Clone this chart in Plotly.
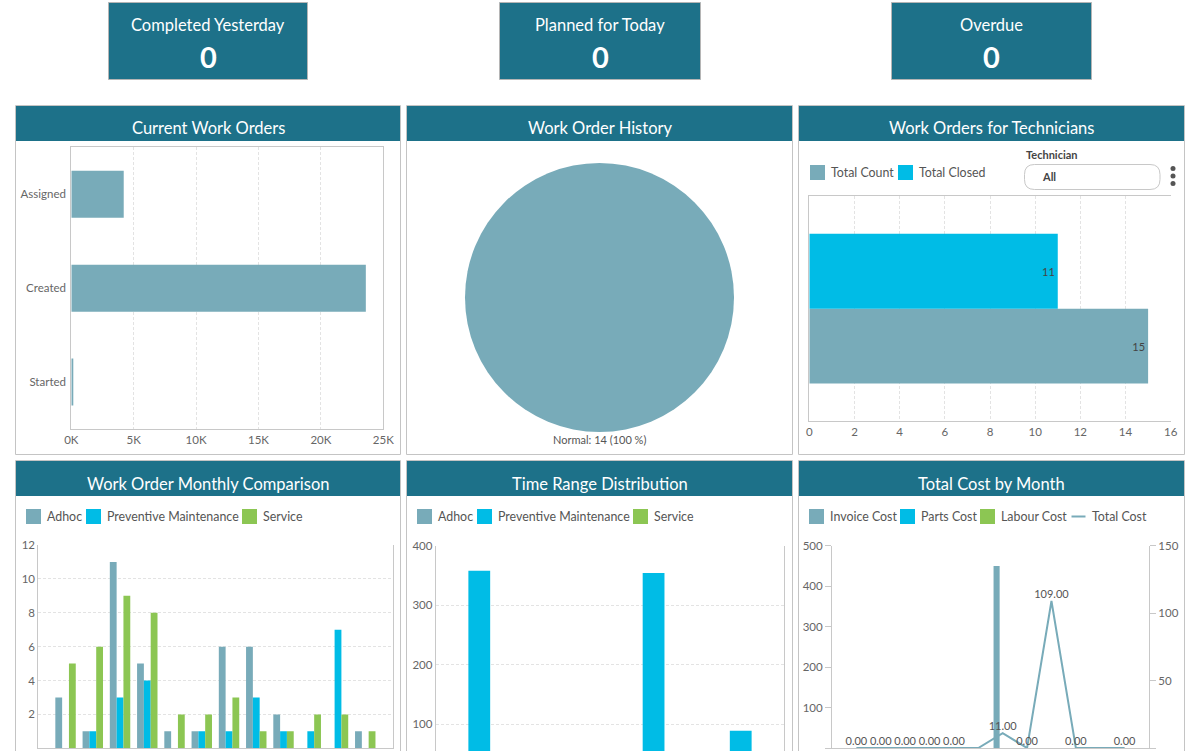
import plotly.graph_objects as go

W, H = 1200, 751


def px(x):
    return x / W


def py(y):
    return 1 - y / H


# ---------------- DATA ----------------
kpi_titles = ["Completed Yesterday", "Planned for Today", "Overdue"]
kpi_values = [0, 0, 0]

wo_status = ["Assigned", "Created", "Started"]
wo_counts = [4200, 23600, 120]
wo_tickvals = [0, 5000, 10000, 15000, 20000, 25000]
wo_ticktext = ["0K", "5K", "10K", "15K", "20K", "25K"]

history_labels = ["Normal"]
history_values = [14]

tech_category = ["All"]
tech_total_count = [15]
tech_total_closed = [11]

months = ["Jan", "Feb", "Mar", "Apr", "May", "Jun",
          "Jul", "Aug", "Sep", "Oct", "Nov", "Dec"]
monthly_adhoc = [3, 1, 11, 5, 1, 1, 6, 6, 2, 0, 0, 1]
monthly_pm = [0, 1, 3, 4, 0, 1, 1, 3, 1, 1, 7, 0]
monthly_service = [5, 6, 9, 8, 2, 2, 3, 1, 1, 2, 2, 1]

time_ranges = ["< 1 Day", "1-3 Days", "3-7 Days", "> 7 Days"]
time_adhoc = [0, 0, 0, 0]
time_pm = [358, 0, 354, 89]
time_service = [0, 0, 0, 0]

invoice_cost = [0, 0, 0, 0, 0, 0, 450, 0, 0, 0, 0, 0]
parts_cost = [0, 0, 0, 0, 0, 0, 0, 0, 0, 0, 0, 0]
labour_cost = [0, 0, 0, 0, 0, 0, 0, 0, 0, 0, 0, 0]
total_cost = [0, 0, 0, 0, 0, 0, 11, 0, 109, 0, 0, 0]
total_cost_label_shown = [1, 1, 1, 1, 1, 0, 1, 1, 1, 1, 0, 1]

# ---------------- STYLE ----------------
TEAL = "#1d7189"
GB = "#78abb9"
CYAN = "#00bce6"
GREEN = "#8cc653"
BORDER = "#c4c4c4"
AXIS = "#c8c8c8"
GRID = "#e3e3e3"
DASH = "3px,2px"
TXT = "#555555"
TICK = "#666666"
FONT = "Lato"
LEG = 12.4

fig = go.Figure()

# Current work orders
fig.add_trace(go.Bar(x=wo_counts, y=wo_status, orientation="h", width=0.5,
                     marker=dict(color=GB, line=dict(width=0)),
                     xaxis="x", yaxis="y", showlegend=False, hoverinfo="x+y"))

# Work order history pie
fig.add_trace(go.Pie(labels=history_labels, values=history_values, sort=False,
                     textinfo="none", marker=dict(colors=[GB], line=dict(width=0)),
                     domain=dict(x=[px(465), px(734)], y=[py(432), py(163)]),
                     showlegend=False))

# Technicians
fig.add_trace(go.Bar(x=tech_total_count, y=tech_category, orientation="h",
                     width=1 / 3, offset=-1 / 3, name="Total Count",
                     marker=dict(color=GB, line=dict(width=0)),
                     text=[str(v) for v in tech_total_count], textposition="inside",
                     insidetextanchor="end", textfont=dict(color="#444", size=11),
                     xaxis="x2", yaxis="y2", showlegend=False))
fig.add_trace(go.Bar(x=tech_total_closed, y=tech_category, orientation="h",
                     width=1 / 3, offset=0, name="Total Closed",
                     marker=dict(color=CYAN, line=dict(width=0)),
                     text=[str(v) for v in tech_total_closed], textposition="inside",
                     insidetextanchor="end", textfont=dict(color="#444", size=11),
                     xaxis="x2", yaxis="y2", showlegend=False))

# Monthly comparison
for vals, col, off, nm in [(monthly_adhoc, GB, -0.375, "Adhoc"),
                           (monthly_pm, CYAN, -0.125, "Preventive Maintenance"),
                           (monthly_service, GREEN, 0.125, "Service")]:
    fig.add_trace(go.Bar(x=months, y=vals, width=0.25, offset=off, name=nm,
                         marker=dict(color=col, line=dict(width=0)),
                         xaxis="x3", yaxis="y3", showlegend=False))

# Time range distribution
for vals, col, off, nm in [(time_adhoc, GB, -0.375, "Adhoc"),
                           (time_pm, CYAN, -0.125, "Preventive Maintenance"),
                           (time_service, GREEN, 0.125, "Service")]:
    fig.add_trace(go.Bar(x=time_ranges, y=vals, width=0.25, offset=off, name=nm,
                         marker=dict(color=col, line=dict(width=0)),
                         xaxis="x4", yaxis="y4", showlegend=False))

# Total cost by month
for vals, col, off, nm in [(invoice_cost, GB, -0.375, "Invoice Cost"),
                           (parts_cost, CYAN, -0.125, "Parts Cost"),
                           (labour_cost, GREEN, 0.125, "Labour Cost")]:
    fig.add_trace(go.Bar(x=months, y=vals, width=0.25, offset=off, name=nm,
                         marker=dict(color=col, line=dict(width=0)),
                         xaxis="x5", yaxis="y5", showlegend=False))

cost_text = [f"{v:.2f}" if s else "" for v, s in zip(total_cost, total_cost_label_shown)]
fig.add_trace(go.Scatter(x=months, y=total_cost, mode="lines+text", name="Total Cost",
                         line=dict(color=GB, width=2), text=cost_text,
                         textposition="top center",
                         textfont=dict(size=11, color=TXT, family=FONT),
                         xaxis="x5", yaxis="y6", showlegend=False, cliponaxis=False))

# ---------------- AXES ----------------
tickfont = dict(size=11.5, color=TICK, family=FONT)
common = dict(automargin=False, zeroline=False, tickfont=tickfont, fixedrange=True)

layout_axes = dict(
    xaxis=dict(domain=[px(71.3), px(383.3)], anchor="y", range=[0, 25000],
               tickvals=wo_tickvals, ticktext=wo_ticktext, showgrid=True,
               gridcolor=GRID, griddash=DASH, showline=True, linecolor=AXIS,
               mirror=True, ticks="", **common),
    yaxis=dict(domain=[py(429), py(147.3)], anchor="x", type="category",
               categoryorder="array", categoryarray=wo_status,
               range=[2.5, -0.5], showgrid=False, showline=True, linecolor=AXIS,
               mirror=True, ticks="", ticklabelstandoff=2, **common),
    xaxis2=dict(domain=[px(809.3), px(1170.7)], anchor="y2", range=[0, 16],
                dtick=2, showgrid=True, gridcolor=GRID, griddash=DASH,
                showline=True, linecolor=AXIS, mirror=True, ticks="", **common),
    yaxis2=dict(domain=[py(421), py(196.3)], anchor="x2", type="category",
                range=[-0.5, 0.5], showticklabels=False, showgrid=False,
                showline=True, linecolor=AXIS, ticks="", **common),
    xaxis3=dict(domain=[px(38.3), px(392.5)], anchor="y3", type="category",
                categoryorder="array", categoryarray=months, range=[-1, 12],
                showticklabels=False, showgrid=False, showline=True,
                linecolor=AXIS, ticks="", **common),
    yaxis3=dict(domain=[py(748.3), py(545)], anchor="x3", range=[0, 12], dtick=2,
                showgrid=True, gridcolor=GRID, griddash=DASH, showline=True,
                linecolor=AXIS, mirror=True, ticks="", **common),
    xaxis4=dict(domain=[px(435.7), px(784.3)], anchor="y4", type="category",
                categoryorder="array", categoryarray=time_ranges, range=[-0.5, 3.5],
                showticklabels=False, showgrid=False, showline=False, ticks="",
                **common),
    yaxis4=dict(domain=[0, py(545.7)], anchor="x4", range=[55.2, 400],
                tickvals=[100, 200, 300, 400], showgrid=True, gridcolor=GRID,
                griddash=DASH, showline=True, linecolor=AXIS, mirror=True,
                ticks="", **common),
    xaxis5=dict(domain=[px(832), px(1149)], anchor="y5", type="category",
                categoryorder="array", categoryarray=months, range=[-1, 12],
                showticklabels=False, showgrid=False, showline=True,
                linecolor=AXIS, ticks="", **common),
    yaxis5=dict(domain=[py(748), py(545.7)], anchor="x5", range=[0, 500], dtick=100,
                showgrid=False, showline=True, linecolor=AXIS, ticks="outside",
                ticklen=6, tickcolor=AXIS, **common),
    yaxis6=dict(overlaying="y5", anchor="x5", side="right", range=[0, 150], dtick=50,
                showgrid=False, showline=True, linecolor=AXIS, ticks="outside",
                ticklen=6, tickcolor=AXIS, **common),
)

# ---------------- DECORATION ----------------
shapes = []
annotations = []


def rect(x0, y0, x1, y1, fill=None, line=None, lw=1):
    return dict(type="rect", xref="paper", yref="paper", layer="above",
                x0=px(x0), x1=px(x1), y0=py(y1), y1=py(y0),
                fillcolor=fill if fill else "rgba(0,0,0,0)",
                line=dict(color=line if line else "rgba(0,0,0,0)",
                          width=lw if line else 0))


def text(x, y, s, size=13, color=TXT, xanchor="left", bold=False):
    return dict(x=px(x), y=py(y), xref="paper", yref="paper", showarrow=False,
                text=f"<b>{s}</b>" if bold else s, xanchor=xanchor, yanchor="middle",
                font=dict(size=size, color=color, family=FONT))


# KPI boxes
kpi_boxes = [(108.5, 307.5), (499.5, 700.5), (891.5, 1091.5)]
for (x0, x1), t, v in zip(kpi_boxes, kpi_titles, kpi_values):
    shapes.append(rect(x0, 2.5, x1, 79.5, fill=TEAL, line="#b5b5b5"))
    annotations.append(text((x0 + x1) / 2, 25, t, size=16.5, color="white", xanchor="center"))
    annotations.append(text((x0 + x1) / 2, 56, str(v), size=29, color="white",
                            xanchor="center", bold=True))

# panels
panel_titles = [["Current Work Orders", "Work Order History", "Work Orders for Technicians"],
                ["Work Order Monthly Comparison", "Time Range Distribution", "Total Cost by Month"]]
cols = [(15.5, 400.5), (406.5, 792.5), (798.5, 1184.5)]
rows = [(105.5, 454.5), (460.5, 770)]
for r, (y0, y1) in enumerate(rows):
    for c, (x0, x1) in enumerate(cols):
        shapes.append(rect(x0, y0 + 0.5, x1, y0 + 35.5, fill=TEAL))
        shapes.append(rect(x0, y0, x1, y1, line=BORDER))
        annotations.append(text((x0 + x1) / 2, y0 + 23, panel_titles[r][c], size=16.5,
                                color="white", xanchor="center"))

# pie label
pct = 100 * history_values[0] / sum(history_values)
annotations.append(text(599.5, 440, f"{history_labels[0]}: {history_values[0]} ({pct:.0f} %)",
                        size=11, color=TXT, xanchor="center"))


def legend_item(x, y, color, label, kind="box"):
    if kind == "box":
        shapes.append(rect(x, y - 7.5, x + 15, y + 7.5, fill=color))
    else:
        shapes.append(dict(type="line", xref="paper", yref="paper",
                           x0=px(x), x1=px(x + 14), y0=py(y), y1=py(y),
                           line=dict(color=color, width=2)))
    annotations.append(text(x + 18.5, y, label, size=LEG))


# technician legend + filter
legend_item(810, 172.5, GB, "Total Count")
legend_item(898, 172.5, CYAN, "Total Closed")
annotations.append(text(1024, 155, "Technician", size=11, color="#444", bold=True))


def rounded(x0, y0, x1, y1, r):
    pts = [("M", [(x0 + r, y0)]), ("L", [(x1 - r, y0)]), ("Q", [(x1, y0), (x1, y0 + r)]),
           ("L", [(x1, y1 - r)]), ("Q", [(x1, y1), (x1 - r, y1)]), ("L", [(x0 + r, y1)]),
           ("Q", [(x0, y1), (x0, y1 - r)]), ("L", [(x0, y0 + r)]),
           ("Q", [(x0, y0), (x0 + r, y0)])]
    s = ""
    for cmd, ps in pts:
        s += cmd + " " + " ".join(f"{px(a):.5f},{py(b):.5f}" for a, b in ps) + " "
    return s + "Z"


shapes.append(dict(type="path", xref="paper", yref="paper",
                   path=rounded(1024.5, 164.5, 1160, 189.5, 10),
                   fillcolor="white", line=dict(color="#c8c8c8", width=1)))
annotations.append(text(1040, 176.5, "All", size=11, color="#444", bold=True))
for dy in (168.5, 176, 183.5):
    shapes.append(dict(type="circle", xref="paper", yref="paper",
                       x0=px(1170.5), x1=px(1175.5), y0=py(dy + 2.5), y1=py(dy - 2.5),
                       fillcolor="#555", line=dict(width=0)))

# bottom legends
legend_item(26, 516.5, GB, "Adhoc")
legend_item(86, 516.5, CYAN, "Preventive Maintenance")
legend_item(242, 516.5, GREEN, "Service")

legend_item(417, 516.5, GB, "Adhoc")
legend_item(477, 516.5, CYAN, "Preventive Maintenance")
legend_item(633, 516.5, GREEN, "Service")

legend_item(809, 516.5, GB, "Invoice Cost")
legend_item(900, 516.5, CYAN, "Parts Cost")
legend_item(980, 516.5, GREEN, "Labour Cost")
legend_item(1071.5, 516.5, GB, "Total Cost", kind="line")

fig.update_layout(
    width=W, height=H, margin=dict(l=0, r=0, t=0, b=0, pad=0),
    paper_bgcolor="white", plot_bgcolor="rgba(0,0,0,0)",
    font=dict(family=FONT, size=11, color=TXT),
    barmode="overlay", showlegend=False,
    shapes=shapes, annotations=annotations,
    **layout_axes,
)

fig.write_html("out.html", config=dict(displayModeBar=False),
               post_script="document.body.style.margin='0px';"
                           "document.body.style.overflow='hidden';")
